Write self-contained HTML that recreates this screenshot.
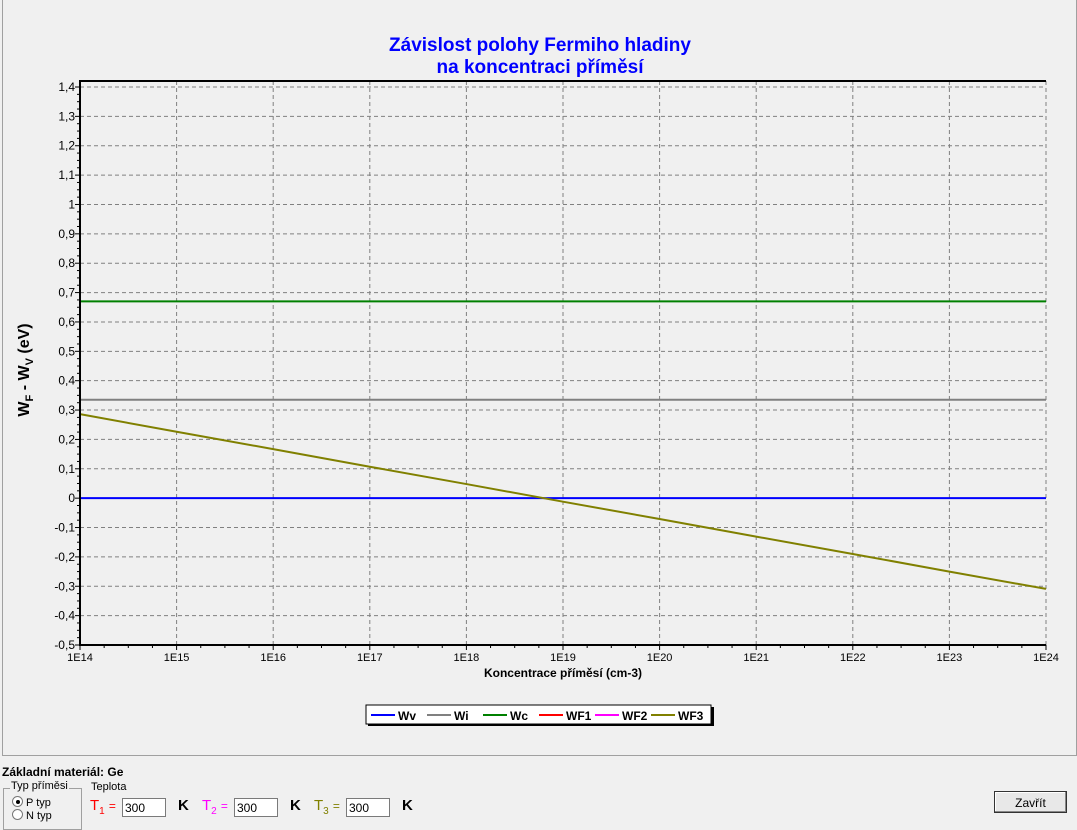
<!DOCTYPE html>
<html><head><meta charset="utf-8"><style>
body{margin:0;width:1077px;height:822px;background:#f0f0f0;overflow:hidden;font-family:"Liberation Sans",sans-serif;position:relative}
.abs{position:absolute}
input.t{position:absolute;width:44px;height:16px;border:1px solid #7a7a7a;background:#fff;font:12px "Liberation Sans",sans-serif;padding:0 2px;box-sizing:border-box;height:19px}
</style></head><body>
<div class="abs" style="left:2px;top:-2px;width:1073px;height:757px;border:1px solid #a0a0a0;border-top:none"></div>
<svg class="abs" style="left:0;top:0" width="1077" height="760" id="chart">
<text x="540" y="51" text-anchor="middle" font-size="19" font-weight="bold" fill="#0000ff">Závislost polohy Fermiho hladiny</text>
<text x="540" y="73" text-anchor="middle" font-size="19" font-weight="bold" fill="#0000ff">na koncentraci příměsí</text>
<g id="grid"></g><g id="series"></g><g id="axes"></g>
<text x="563" y="677" text-anchor="middle" font-size="12" font-weight="bold">Koncentrace příměsí (cm-3)</text>
<text transform="translate(29,370) rotate(-90)" text-anchor="middle" font-size="16" font-weight="bold">W<tspan font-size="11" dy="4">F</tspan><tspan dy="-4"> - W</tspan><tspan font-size="11" dy="4">V</tspan><tspan dy="-4"> (eV)</tspan></text>
<g>
<rect x="368" y="707" width="346" height="19" fill="#000"/>
<rect x="366" y="705" width="345" height="19" fill="#fff" stroke="#000" stroke-width="1"/>
<g id="legend"></g></g>
</svg>
<div class="abs" style="left:2px;top:765px;font-size:12px;font-weight:bold">Základní materiál: Ge</div>
<div class="abs" style="left:3px;top:788px;width:77px;height:40px;border:1px solid #a0a0a0"></div>
<div class="abs" style="left:10px;top:780px;font-size:11px;background:#f0f0f0;padding:0 1px">Typ příměsi</div>
<div class="abs" style="left:12px;top:796px;font-size:11px"><span style="display:inline-block;width:9px;height:9px;border:1px solid #777;border-radius:50%;background:#fff;vertical-align:-1px;position:relative"><span style="position:absolute;left:2.5px;top:2.5px;width:4px;height:4px;border-radius:50%;background:#000"></span></span> P typ</div>
<div class="abs" style="left:12px;top:809px;font-size:11px"><span style="display:inline-block;width:9px;height:9px;border:1px solid #777;border-radius:50%;background:#fff;vertical-align:-1px"></span> N typ</div>
<div class="abs" style="left:91px;top:781px;font-size:11px">Teplota</div>
<div class="abs" style="left:90px;top:797px;font-size:15px;color:#ff0000">T<sub style="font-size:10px">1</sub> <span style="font-size:12px">=</span></div>
<input class="t" style="left:122px;top:798px" value="300">
<div class="abs" style="left:178px;top:797px;font-size:15px;font-weight:bold">K</div>
<div class="abs" style="left:202px;top:797px;font-size:15px;color:#ff00ff">T<sub style="font-size:10px">2</sub> <span style="font-size:12px">=</span></div>
<input class="t" style="left:234px;top:798px" value="300">
<div class="abs" style="left:290px;top:797px;font-size:15px;font-weight:bold">K</div>
<div class="abs" style="left:314px;top:797px;font-size:15px;color:#808000">T<sub style="font-size:10px">3</sub> <span style="font-size:12px">=</span></div>
<input class="t" style="left:346px;top:798px" value="300">
<div class="abs" style="left:402px;top:797px;font-size:15px;font-weight:bold">K</div>
<div class="abs" style="left:994px;top:791px;width:73px;height:22px;border:1px solid #333;box-shadow:inset -1px -1px #888,inset 1px 1px #fff;background:#e8e8e8;font-size:12px;text-align:center;line-height:22px;box-sizing:border-box">Zavřít</div>
<script>
const xDecades=[14,15,16,17,18,19,20,21,22,23,24];
const yTicks=[1.4,1.3,1.2,1.1,1,0.9,0.8,0.7,0.6,0.5,0.4,0.3,0.2,0.1,0,-0.1,-0.2,-0.3,-0.4,-0.5];
const wvValue=0, wiValue=0.335, wcValue=0.67;
const wf3Decades=[14,15,16,17,18,19,20,21,22,23,24];
const wf3Values=[0.286,0.226,0.167,0.107,0.048,-0.012,-0.071,-0.131,-0.190,-0.250,-0.309];
const L=80,R=1046,T=87,B=645;
const X=d=>L+(d-14)*(R-L)/10, Y=v=>B-(v+0.5)*(B-T)/1.9;
const NS='http://www.w3.org/2000/svg';
function mk(tag,attrs,parent,txt){const e=document.createElementNS(NS,tag);for(const k in attrs)e.setAttribute(k,attrs[k]);if(txt!==undefined)e.textContent=txt;parent.appendChild(e);return e;}
const grid=document.getElementById('grid'),axes=document.getElementById('axes'),ser=document.getElementById('series'),leg=document.getElementById('legend');
yTicks.forEach(v=>{const y=Y(v);
 const g=mk('line',{x1:L,x2:R,y1:y,y2:y,stroke:'#808080','stroke-dasharray':'4,3'},grid);
 
 
 mk('line',{x1:L-5,x2:L,y1:y,y2:y,stroke:'#000'},axes);
 const t=mk('text',{x:L-5,y:y+4,'text-anchor':'end','font-size':12},axes,String(v).replace('.',','));
 
 
 if(v>-0.5)for(let k=1;k<4;k++){const ym=Y(v-0.025*k);mk('line',{x1:L-3,x2:L,y1:ym,y2:ym,stroke:'#000'},axes);}
});
xDecades.forEach(d=>{const x=X(d);
 const g=mk('line',{x1:x,x2:x,y1:81,y2:B,stroke:'#808080','stroke-dasharray':'4,3'},grid);
 
 
 mk('line',{x1:x,x2:x,y1:B,y2:B+5,stroke:'#000'},axes);
 const t=mk('text',{x:x,y:B+16,'text-anchor':'middle','font-size':11},axes,'1E'+d);
 
 
 if(d<24)for(let k=1;k<4;k++){const xm=X(d+k*0.25);mk('line',{x1:xm,x2:xm,y1:B,y2:B+3,stroke:'#000'},axes);}
});
mk('line',{x1:L,x2:R,y1:81,y2:81,stroke:'#000','stroke-width':2},axes);
mk('line',{x1:L,x2:L,y1:80,y2:B+1,stroke:'#000','stroke-width':2},axes);
mk('line',{x1:L,x2:R,y1:B,y2:B,stroke:'#000','stroke-width':2},axes);
function hline(v,c,n){const l=mk('line',{x1:L,x2:R,y1:Y(v),y2:Y(v),stroke:c,'stroke-width':2},ser);
 
 }
hline(wcValue,'#008000','wc-line');hline(wiValue,'#808080','wi-line');hline(wvValue,'#0000ff','wv-line');
const p=mk('polyline',{points:wf3Decades.map((d,i)=>X(d)+','+Y(wf3Values[i])).join(' '),fill:'none',stroke:'#808000','stroke-width':2},ser);


const legNames=['Wv','Wi','Wc','WF1','WF2','WF3'],legColors=['#0000ff','#808080','#008000','#ff0000','#ff00ff','#808000'];
const legX=[371,427,483,539,595,651];
legNames.forEach((n,i)=>{const x=legX[i];
 mk('line',{x1:x,x2:x+24,y1:715,y2:715,stroke:legColors[i],'stroke-width':2},leg);
 const t=mk('text',{x:x+27,y:720,'font-size':12,'font-weight':'bold'},leg,n);
 
 
});
</script>
</body></html>
